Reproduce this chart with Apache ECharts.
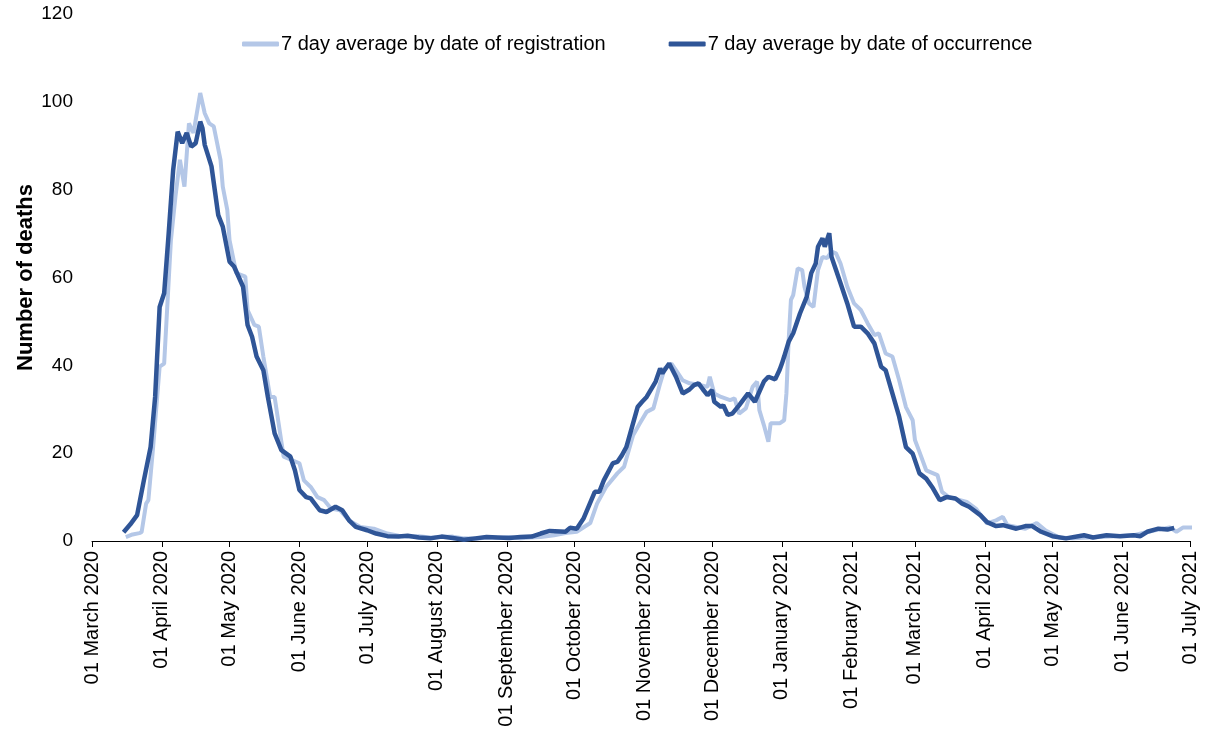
<!DOCTYPE html>
<html>
<head>
<meta charset="utf-8">
<script src="https://cdn.jsdelivr.net/npm/echarts@6/dist/echarts.min.js"></script>
<style>
html,body{margin:0;padding:0;background:#fff;}
#chart{width:1208px;height:729px;}
</style>
</head>
<body>
<div id="chart"></div>
<script>
// Series names
const seriesNames = ['7 day average by date of registration', '7 day average by date of occurrence'];
// Month names for tick labels
const monthNames = ['January','February','March','April','May','June','July','August','September','October','November','December'];
// Axis range (first day of months)
const xStart = [2020, 2, 1];
const xEnd = [2021, 6, 1];
const yTicks = [0, 20, 40, 60, 80, 100, 120];

// Registration: days since 01 March 2020, and 7-day average values
const regDay = [15,18,21,22,24,25,27,30,32,35,37,39,41,43,45,48,50,52,54,57,58,60,61,64,68,69,72,74,76,79,81,85,92,94,97,100,103,106,110,114,119,125,131,136,140,145,150,155,160,165,170,175,180,185,190,195,199,205,210,215,221,224,228,233,236,240,243,246,249,252,254,257,259,262,265,270,273,274,276,279,283,285,287,290,293,295,296,298,300,301,305,307,308,309,310,311,313,315,316,318,320,322,324,326,328,330,332,335,338,341,344,347,349,352,355,358,361,364,365,367,370,375,377,380,388,392,397,401,404,406,414,419,423,429,435,447,462,471,478,481,484,488];
const regVal = [0.9,1.5,1.8,2.0,8.5,9.3,20.7,39.7,40.4,68.5,78.4,86.8,80.7,95.1,92.9,102,97.4,95.1,94.4,86.8,80.7,75.4,68.5,61,60.2,52.6,49.2,48.8,42,32.8,32.8,19.2,17.7,13.8,12.3,10,9.3,7.4,7,4.7,3.2,2.8,1.7,1.2,1.0,1.1,0.8,0.9,1.0,0.6,0.5,0.8,0.7,0.9,0.6,0.8,0.9,1.3,1.8,2.1,4.1,8.5,12.3,15.4,16.9,24.1,26.8,29.4,30.2,35.9,39.3,40.4,38.9,36.6,35.9,35.5,35.1,37.4,33.6,32.8,32.1,32.5,29,30.2,35.1,36.3,29.8,26.4,22.6,26.8,26.8,27.5,33.6,45.8,54.9,56,62.1,61.7,57.9,54.1,53.3,61.7,64.7,64.4,65.9,65.5,63.2,57.9,54.1,52.6,49.6,46.9,47.3,42.7,42,36.6,30.5,27.5,23,20.3,16.1,15,11.2,10,8.9,7.4,4,4.7,5.5,3.6,2.8,4.1,2.4,0.8,0.6,0.9,1.3,2.4,3.1,2.1,3.1,3.1];

// Occurrence: days since 01 March 2020, and 7-day average values
const occDay = [14,17,20,23,26,28,30,32,34,36,38,40,42,44,46,48,49,50,53,56,58,61,63,67,69,71,73,76,78,81,84,88,90,92,95,97,101,104,108,111,114,117,122,126,131,136,140,145,150,155,160,165,170,175,180,185,190,195,199,203,210,212,215,218,223,225,227,231,233,235,237,242,244,246,250,252,253,256,259,262,265,267,269,271,273,275,276,279,280,282,284,287,291,294,298,300,303,305,306,307,309,311,314,317,319,321,322,324,325,327,328,330,332,335,338,341,344,347,350,352,355,358,361,364,367,370,373,376,379,383,386,389,394,397,401,404,410,414,417,421,426,432,440,444,450,456,462,465,468,473,477,480];
const occVal = [2.0,3.8,5.9,13.8,21.4,32.8,53.3,56.4,70,84.5,93.2,90.6,92.9,89.8,90.6,95.5,94,90.2,85.3,74.2,71.6,63.6,62.5,57.9,49.2,46.5,42,38.9,32.8,24.5,20.7,19.2,16.1,11.6,10,9.7,7,6.6,7.8,7,4.7,3.2,2.45,1.7,1.1,1.0,1.2,0.8,0.6,1.0,0.7,0.3,0.6,0.9,0.8,0.7,0.9,1.0,1.7,2.3,2.1,3.0,2.8,5.1,11.2,11.2,13.8,17.7,18,19.5,21.4,30.5,31.7,32.8,36.3,39.3,38.2,40.4,37.4,33.6,34.5,35.5,35.9,34.5,33.2,34.4,31.7,30.5,30.9,28.7,29,30.9,33.6,31.7,36.3,37.4,36.8,39,40.4,42,45.4,47.3,51.8,55.6,61,63.2,67,68.9,67,70.1,64.7,61.7,58.7,54.1,48.8,48.8,47.3,45,39.7,38.9,33.6,28.3,21.4,19.9,15.4,14.2,12,9.3,10,9.7,8.5,7.8,5.9,4.3,3.4,3.6,2.8,3.4,3.4,2.1,1.1,0.6,1.3,0.8,1.3,1.1,1.3,1.1,2.1,2.8,2.6,3.0];

function dayToTime(d) { return new Date(2020, 2, 1 + d).getTime(); }
function pairs(days, vals) { return days.map((d, i) => [dayToTime(d), vals[i]]); }

const FONT = '"Liberation Sans", Arial, sans-serif';
const chart = echarts.init(document.getElementById('chart'));
chart.setOption({
  animation: false,
  backgroundColor: '#ffffff',
  textStyle: { fontFamily: FONT, color: '#000' },
  grid: { left: 92, right: 18, top: 14, bottom: 188, containLabel: false, outerBoundsMode: 'none' },
  legend: {
    top: 29, left: 237,
    itemGap: 63,
    itemWidth: 37, itemHeight: 5,
    icon: 'roundRect',
    textStyle: { fontFamily: FONT, fontSize: 20, color: '#000', padding: [0, 0, 0, -3] },
    data: seriesNames
  },
  xAxis: {
    type: 'time',
    min: new Date(xStart[0], xStart[1], xStart[2]).getTime(),
    max: new Date(xEnd[0], xEnd[1], xEnd[2]).getTime(),
    splitNumber: 16,
    minInterval: 28 * 864e5,
    maxInterval: 31 * 864e5,
    axisLine: { show: true, lineStyle: { color: '#000', width: 1 } },
    axisTick: { show: true, length: 6, lineStyle: { color: '#000' } },
    splitLine: { show: false },
    axisLabel: {
      rotate: 90, margin: 10, interval: 0, hideOverlap: false,
      fontFamily: FONT, fontSize: 20, color: '#000',
      formatter: function (v) {
        const dt = new Date(v);
        return '01 ' + monthNames[dt.getMonth()] + ' ' + dt.getFullYear();
      }
    }
  },
  yAxis: {
    type: 'value',
    min: yTicks[0], max: yTicks[yTicks.length - 1], interval: 20,
    name: 'Number of deaths',
    nameLocation: 'middle', nameRotate: 90, nameGap: 55, nameMoveOverlap: false,
    nameTextStyle: { fontFamily: FONT, fontSize: 22, fontWeight: 'bold', color: '#000' },
    axisLine: { show: false }, axisTick: { show: false }, splitLine: { show: false },
    axisLabel: { fontFamily: FONT, fontSize: 19, color: '#000', margin: 19 }
  },
  series: [
    { name: seriesNames[0], type: 'line', showSymbol: false, symbol: 'none',
      lineStyle: { color: '#b4c7e7', width: 4 }, itemStyle: { color: '#b4c7e7' },
      data: pairs(regDay, regVal) },
    { name: seriesNames[1], type: 'line', showSymbol: false, symbol: 'none',
      lineStyle: { color: '#2f5597', width: 4.5 }, itemStyle: { color: '#2f5597' },
      data: pairs(occDay, occVal) }
  ]
});
</script>
</body>
</html>
